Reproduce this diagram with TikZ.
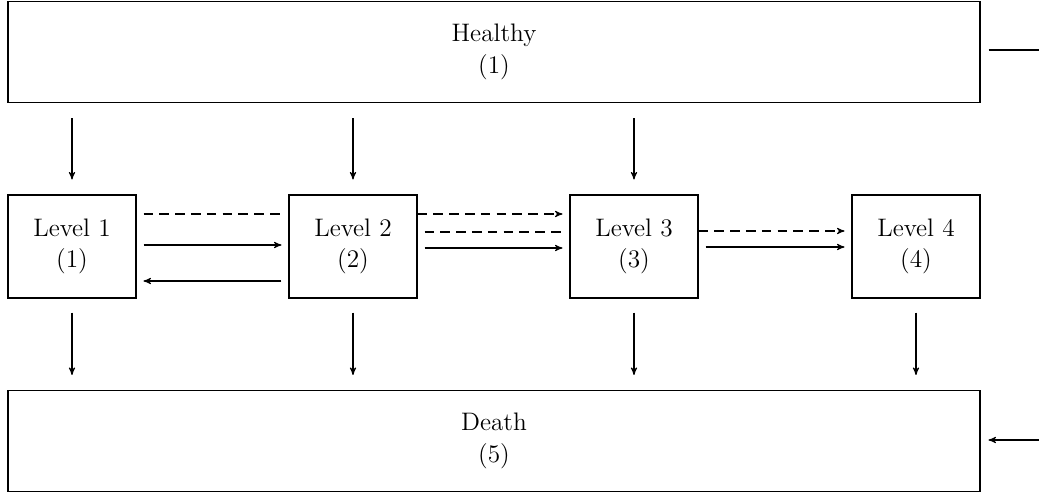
\documentclass[tikz,border=0pt]{standalone}
\usepackage{tikz}
\usetikzlibrary{arrows,positioning}

\tikzset{
  statebox/.style={rectangle, draw, semithick, align=center, font=\Large},
  wide/.style={minimum width=19.44cm, minimum height=2.02cm},
  levelbox/.style={minimum width=2.56cm, minimum height=2.06cm},
  flow/.style={->, semithick, shorten <=0.14cm, shorten >=0.14cm},
  dflow/.style={semithick, dash pattern=on 5.5pt off 3.5pt, shorten <=0.14cm, shorten >=0.14cm},
}

\begin{document}
\begin{tikzpicture}[>=stealth']

    % page frame
    \useasboundingbox (0,0) rectangle (20.78,-9.94);

    % states
    \draw (9.88,-1.04) node[statebox, wide] (healthy) {Healthy\\(1)};
    \draw (1.44,-4.93) node[statebox, levelbox] (lvlA) {Level 1\\(1)};
    \draw (7.06,-4.93) node[statebox, levelbox] (lvlB) {Level 2\\(2)};
    \draw (12.68,-4.93) node[statebox, levelbox] (lvlC) {Level 3\\(3)};
    \draw (18.32,-4.93) node[statebox, levelbox] (lvlD) {Level 4\\(4)};
    \draw (9.88,-8.82) node[statebox, wide] (death) {Death\\(5)};

    % loop ends at the right margin
    \coordinate (loopTop) at (20.78,-1.0);
    \coordinate (loopBot) at (20.78,-8.8);

    % down from healthy
    \draw[flow, shorten <=0.3cm, shorten >=0.3cm] (lvlA.north |- healthy.south) -- (lvlA.north);
    \draw[flow, shorten <=0.3cm, shorten >=0.3cm] (lvlB.north |- healthy.south) -- (lvlB.north);
    \draw[flow, shorten <=0.3cm, shorten >=0.3cm] (lvlC.north |- healthy.south) -- (lvlC.north);

    % down to death
    \draw[flow, shorten <=0.28cm, shorten >=0.3cm] (lvlA.south) -- (lvlA.south |- death.north);
    \draw[flow, shorten <=0.28cm, shorten >=0.3cm] (lvlB.south) -- (lvlB.south |- death.north);
    \draw[flow, shorten <=0.28cm, shorten >=0.3cm] (lvlC.south) -- (lvlC.south |- death.north);
    \draw[flow, shorten <=0.28cm, shorten >=0.3cm] (lvlD.south) -- (lvlD.south |- death.north);

    % level 1 <-> level 2
    \draw[dflow] ([yshift=0.65cm]lvlA.east) -- ([yshift=0.65cm]lvlB.west);
    \draw[flow] ([yshift=0.03cm]lvlA.east) -- ([yshift=0.03cm]lvlB.west);
    \draw[flow] ([yshift=-0.69cm]lvlB.west) -- ([yshift=-0.69cm]lvlA.east);

    % level 2 -> level 3
    \draw[dflow, ->, shorten <=0pt] ([yshift=0.65cm]lvlB.east) -- ([yshift=0.65cm]lvlC.west);
    \draw[dflow] ([yshift=0.29cm]lvlB.east) -- ([yshift=0.29cm]lvlC.west);
    \draw[flow] ([yshift=-0.03cm]lvlB.east) -- ([yshift=-0.03cm]lvlC.west);

    % level 3 -> level 4
    \draw[dflow, ->, shorten <=0pt] ([yshift=0.31cm]lvlC.east) -- ([yshift=0.31cm]lvlD.west);
    \draw[flow] ([yshift=-0.01cm]lvlC.east) -- ([yshift=-0.01cm]lvlD.west);

    % right side
    \draw[semithick, shorten <=0.16cm] (healthy.east |- loopTop) -- (loopTop);
    \draw[flow, shorten <=0pt, shorten >=0.16cm] (loopBot) -- (death.east |- loopBot);

\end{tikzpicture}
\end{document}
